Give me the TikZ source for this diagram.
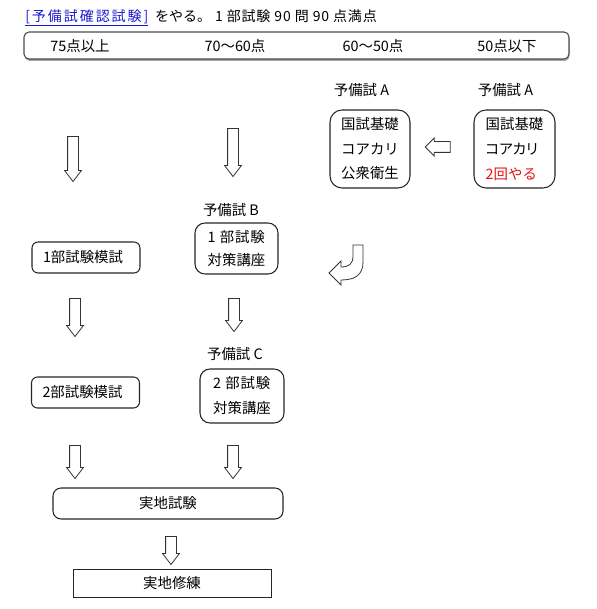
\documentclass[tikz,border=0pt]{standalone}
\usepackage{fontspec}
\setmainfont{Noto Sans CJK JP}
\usepackage{xcolor}
\usepackage{tikz}
\usetikzlibrary{shapes,arrows,positioning,shadows}
\definecolor{linkblue}{RGB}{25, 25, 205}
\definecolor{alertred}{RGB}{228, 20, 20}

\tikzset{
  rbox/.style={rectangle, draw=black!85, line width=0.8pt, fill=white, inner sep=0pt, align=left},
  dnarrow/.style={single arrow, draw=black!80, line width=0.6pt, fill=white, inner sep=3.75pt, shape border rotate=270, single arrow head extend=2.25pt, single arrow tip angle=75},
}

\begin{document}
\begin{tikzpicture}[x=0.75pt, y=-0.75pt, every node/.style={font=\fontsize{10.8pt}{18pt}\selectfont}]
    \useasboundingbox (0,0) rectangle (596,609);

    % title line
    \node[anchor=west, inner sep=0pt, font=\fontsize{10.5pt}{12pt}\selectfont] (title) at (25,18) {{\color{linkblue}\underline{\addfontfeature{LetterSpace=14}[予備試確認試験]}}\hspace{5pt}をやる。\hspace{3pt}{\addfontfeature{LetterSpace=6}1 部試験 90 問 90 点満点}};

    % score bar
    \node[rbox, draw=black!70, rounded corners=3.75pt, minimum width=408.75pt, minimum height=20.25pt, drop shadow={shadow xshift=0.5pt, shadow yshift=-1.5pt, fill=black!60, opacity=0.6}] (bar) at (296.5,45.5) {};
    \node (s75) at (80,46) {75点以上};
    \node (s70) at (235,46) {70〜60点};
    \node (s60) at (373,46) {60〜50点};
    \node (s50) at (507,46) {50点以下};

    % course A
    \node (taga1) at (361.5,90) {予備試 A};
    \node[rbox, rounded corners=9pt, minimum width=60pt, minimum height=58.5pt, font=\fontsize{10.8pt}{18.4pt}\selectfont] (boxa1) at (370,149) {国試基礎\\コアカリ\\公衆衛生};
    \node (taga2) at (505.5,90) {予備試 A};
    \node[rbox, rounded corners=9pt, minimum width=60.75pt, minimum height=58.5pt, font=\fontsize{10.8pt}{18.4pt}\selectfont] (boxa2) at (514.5,149) {国試基礎\\{\addfontfeature{RawFeature=+palt}コアカリ}\\\textcolor{alertred}{2回やる}};
    \node[dnarrow, shape border rotate=180, minimum height=18.75pt, single arrow head extend=2.6pt, single arrow tip angle=90] (arra) at (440.5,147) {};

    % hook arrow back to the left
    \draw[black!80, line width=0.6pt, fill=white] (353,245) -- (363,245) -- (363,262) .. controls (363,275) and (355,280) .. (341,280) -- (341,285) -- (329,273) -- (341,261) -- (341,267) .. controls (349,267) and (353,264) .. (353,256) -- cycle;

    % first column arrows
    \node[dnarrow, minimum height=33.75pt] (dn1a) at (73,155.5) {};
    \node[dnarrow, minimum height=36pt] (dn1b) at (233,149) {};

    % part 1
    \node[rbox, rounded corners=4.5pt, minimum height=23.25pt, text width=64.5pt, inner xsep=8.25pt] (mock1) at (86,257.5) {1部試験模試};
    \node (tagb) at (231,210) {予備試 B};
    \node[rbox, rounded corners=7.5pt, minimum width=62.25pt, minimum height=38.25pt, font=\fontsize{10.8pt}{17.25pt}\selectfont] (boxb) at (236.5,248.5) {{\addfontfeature{LetterSpace=6}1 部試験}\\対策講座};

    \node[dnarrow, minimum height=28.5pt] (dn2a) at (75,314) {};
    \node[dnarrow, minimum height=24.75pt] (dn2b) at (234,311.5) {};

    % part 2
    \node[rbox, rounded corners=4.5pt, minimum height=23.25pt, text width=64.5pt, inner xsep=8.25pt] (mock2) at (85.5,392.5) {2部試験模試};
    \node (tagc) at (235,354) {予備試 C};
    \node[rbox, rounded corners=7.5pt, minimum width=63pt, minimum height=40.5pt, font=\fontsize{10.8pt}{18.75pt}\selectfont] (boxc) at (242,396) {{\addfontfeature{LetterSpace=6}2 部試験}\\対策講座};

    \node[dnarrow, minimum height=24.75pt] (dn3a) at (75,458.5) {};
    \node[dnarrow, minimum height=24.75pt] (dn3b) at (233,458.5) {};

    % practical
    \node[rbox, rounded corners=6pt, minimum width=172.5pt, minimum height=23.25pt, align=center] (exam) at (168,503.5) {実地試験};
    \node[dnarrow, minimum height=21pt] (dn4) at (171,547) {};
    \node[rbox, line width=0.7pt, minimum width=148.5pt, minimum height=21pt, align=center] (train) at (172,583) {実地修練};
\end{tikzpicture}
\end{document}
